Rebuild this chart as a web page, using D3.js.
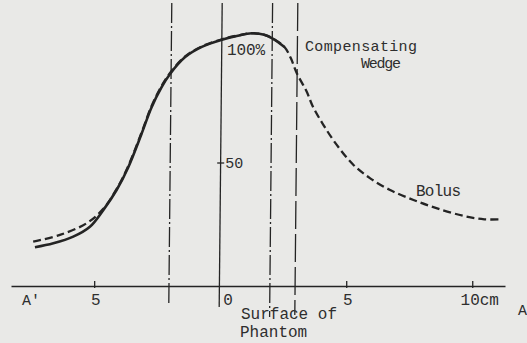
<!DOCTYPE html>
<html>
<head>
<meta charset="utf-8">
<script src="https://cdn.jsdelivr.net/npm/d3@7"></script>
<style>
  html, body { margin: 0; padding: 0; background: #e9e9e7; }
  svg { display: block; }
</style>
</head>
<body>
<div id="chart"></div>
<script>
// distance from field centre (cm) and relative dose (%)
const wedgeX = [-7.35, -6.62, -5.83, -5.17, -4.64, -4.11, -3.66, -3.13, -2.73, -2.33, -1.99, -1.39, -0.73, 0.07, 0.70, 1.25, 1.75, 2.10, 2.55];
const wedgeY = [16.0, 17.6, 20.3, 24.3, 31.0, 39.1, 48.0, 61.5, 72.3, 80.5, 85.9, 92.7, 96.8, 99.7, 101.3, 102.3, 101.7, 100.1, 96.8];

const bolusX = [-7.42, -6.36, -5.30, -4.64, -4.11, -3.66, -3.13, -2.73, -2.33, -1.99, -1.39, -0.73, 0.07, 0.70, 1.25, 1.75, 2.10, 2.55, 2.80, 3.04, 3.43, 3.68, 4.08, 4.61, 5.28, 5.94, 6.74, 7.67, 8.61, 9.68, 10.48, 11.14];
const bolusY = [18.3, 21.0, 25.7, 31.5, 39.5, 48.5, 62.0, 72.8, 81.0, 86.3, 93.0, 97.0, 99.9, 101.4, 102.3, 101.7, 100.1, 96.8, 92.3, 86.2, 78.8, 72.7, 65.6, 57.5, 49.3, 43.9, 39.1, 35.1, 31.7, 28.6, 27.3, 27.3];

// field edges: dash-dot at ±2, solid centre, dashed at 3
const refLines = [
  { x: -2, style: "dashdot", bottom: 305 },
  { x: 0, style: "solid", bottom: 307 },
  { x: 2, style: "dashdot", bottom: 317 },
  { x: 3, style: "dashed", bottom: 315 }
];
const xTicks = [-5, 5, 10];

const width = 527, height = 343;
const ink = "#242424";
const font = "'Liberation Mono', 'DejaVu Sans Mono', monospace";

const x = d3.scaleLinear().domain([-8.3, 11.3]).range([11, 505]);
const y = d3.scaleLinear().domain([0, 100]).range([287, 39]);

const svg = d3.select("#chart").append("svg")
  .attr("width", width)
  .attr("height", height)
  .style("font-family", font);

// vertical reference lines
const dashes = { dashdot: "20,3,2,3", solid: null, dashed: "28,5" };
svg.append("g")
  .selectAll("line")
  .data(refLines)
  .join("line")
  .attr("x1", d => x(d.x) + 2)
  .attr("x2", d => x(d.x) - 1)
  .attr("y1", 3)
  .attr("y2", d => d.bottom)
  .attr("stroke", ink)
  .attr("stroke-width", 1.3)
  .attr("stroke-dasharray", d => dashes[d.style]);

// horizontal axis
const axis = svg.append("g")
  .attr("transform", "translate(0,286)")
  .call(d3.axisBottom(x)
    .tickValues(xTicks)
    .tickSizeInner(-5)
    .tickSizeOuter(0)
    .tickFormat(d => Math.abs(d) + (d === 10 ? "cm" : "")));
axis.select(".domain").attr("stroke", ink).attr("stroke-width", 1.5);
axis.selectAll(".tick line").attr("stroke", ink).attr("stroke-width", 1.3).attr("y2", -5).attr("y1", 2);
axis.selectAll(".tick text")
  .attr("fill", "#2e2e2e")
  .attr("font-size", 16)
  .attr("font-family", font)
  .attr("y", 8)
  .attr("dx", d => d === 10 ? 7 : 1);

const label = (txt, px, py, size, anchor) => svg.append("text")
  .attr("x", px).attr("y", py)
  .attr("font-size", size || 16)
  .attr("text-anchor", anchor || "start")
  .attr("fill", "#2e2e2e")
  .text(txt);

label("0", x(0) + 3, 305);
label("A'", 22, 305, 15);
label("A", 518, 315, 15);
label("Surface of", 241, 319);
label("Phantom", 240, 337);
label("100%", 227, 55, 16).attr("textLength", 38);
label("Compensating", 305, 51, 15).attr("textLength", 112);
label("Wedge", 361, 68, 15).attr("textLength", 40);
label("Bolus", 416, 196, 16).attr("textLength", 45);
label("50", x(0) + 5, 168, 15);

// 50% tick on the centre line
svg.append("line")
  .attr("x1", x(0) - 3).attr("x2", x(0) + 4)
  .attr("y1", y(50)).attr("y2", y(50))
  .attr("stroke", ink).attr("stroke-width", 1.3);

// dose profiles
const line = d3.line()
  .x(d => x(d[0]))
  .y(d => y(d[1]))
  .curve(d3.curveCatmullRom.alpha(0.5));

svg.append("path")
  .datum(d3.zip(bolusX, bolusY))
  .attr("d", line)
  .attr("fill", "none")
  .attr("stroke", ink)
  .attr("stroke-width", 2.3)
  .attr("stroke-dasharray", "8,4");

svg.append("path")
  .datum(d3.zip(wedgeX, wedgeY))
  .attr("d", line)
  .attr("fill", "none")
  .attr("stroke", ink)
  .attr("stroke-width", 2.6);
</script>
</body>
</html>
